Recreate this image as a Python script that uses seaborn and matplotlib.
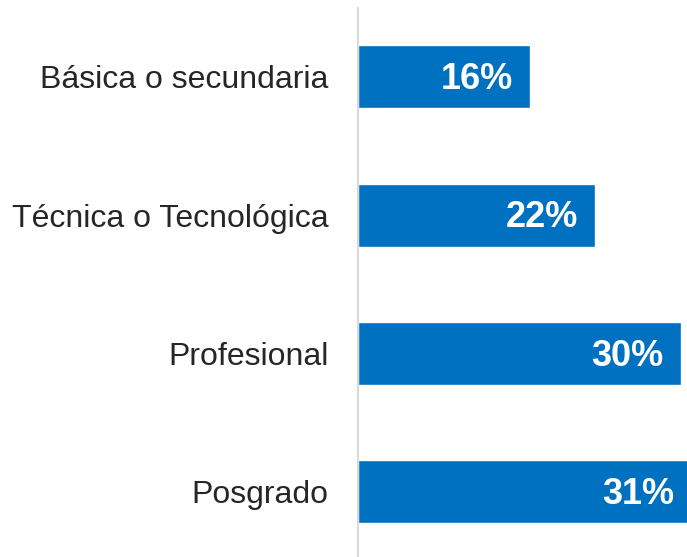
import matplotlib
matplotlib.use("Agg")
import matplotlib.pyplot as plt
import seaborn as sns
import pandas as pd

# datos
niveles = ["Básica o secundaria", "Técnica o Tecnológica", "Profesional", "Posgrado"]
porcentajes = [16, 22, 30, 31]

data = pd.DataFrame({"nivel": niveles, "pct": porcentajes})

sns.set_style("white")
plt.rcParams["font.family"] = ["Liberation Sans", "DejaVu Sans"]

fig = plt.figure(figsize=(6.87, 5.57), dpi=100)
ax = fig.add_axes([0.521, 0.0, 0.479, 0.9856])

sns.barplot(data=data, x="pct", y="nivel", color="#0070C0", saturation=1,
            width=0.455, ax=ax)

# etiquetas dentro de las barras
for i, v in enumerate(porcentajes):
    ax.text(v - 1.55, i + 0.02, f"{v}%", ha="right", va="center", color="white",
            fontsize=26, fontweight="bold")

ax.set_xlim(0, 30.6)
ax.set_ylim(3.47, -0.495)
ax.set_xlabel("")
ax.set_ylabel("")
ax.set_xticks([])
ax.tick_params(axis="y", length=0, pad=21, labelsize=23, labelcolor="#262626")

for s in ["top", "right", "bottom"]:
    ax.spines[s].set_visible(False)
ax.spines["left"].set_color("#D9D9D9")
ax.spines["left"].set_linewidth(1.5)

fig.savefig("out.png", dpi=100)
